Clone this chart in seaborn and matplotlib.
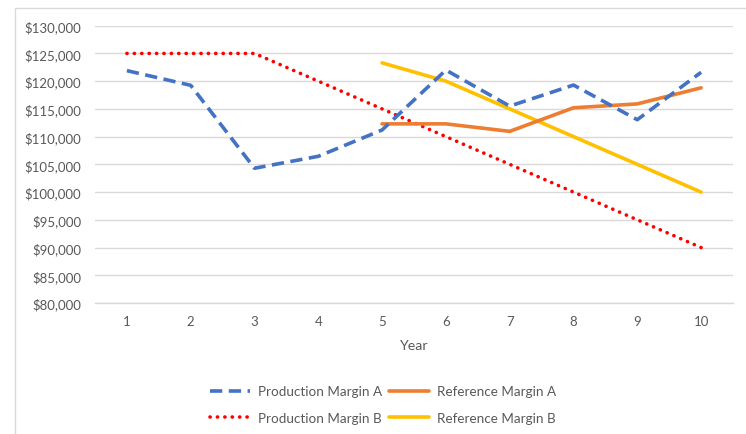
import matplotlib
matplotlib.use("Agg")
import matplotlib.pyplot as plt
from matplotlib.patches import Rectangle
from matplotlib.ticker import FuncFormatter
import seaborn as sns
import pandas as pd

# Chart data
years = [1, 2, 3, 4, 5, 6, 7, 8, 9, 10]
production_margin_a = [121900, 119250, 104300, 106450, 111200, 122000, 115500, 119300, 113050, 121600]
production_margin_b = [125000, 125000, 125000, 120000, 115000, 110000, 105000, 100000, 95000, 90000]
reference_years = [5, 6, 7, 8, 9, 10]
reference_margin_a = [112300, 112300, 110950, 115200, 115900, 118800]
reference_margin_b = [123300, 120000, 115000, 110000, 105000, 100000]
y_ticks = list(range(80000, 130001, 5000))

sns.set_theme(style="white")
plt.rcParams["font.family"] = ["Lato", "DejaVu Sans"]

text_color = "#595959"
grid_color = "#D9D9D9"

fig = plt.figure(figsize=(7.46, 4.35), dpi=100)

# Chart-area frame (left and top edges fall inside the image)
fig.patches.append(Rectangle((14.5 / 746, -0.1), 1.2, 1 - 9 / 435 + 0.1,
                             transform=fig.transFigure, fill=False,
                             edgecolor=grid_color, linewidth=1.0))

ax = fig.add_axes([95 / 746, 1 - 304 / 435, (733 - 95) / 746, (304 - 26.7) / 435])

df_pa = pd.DataFrame({"Year": years, "Value": production_margin_a})
df_pb = pd.DataFrame({"Year": years, "Value": production_margin_b})
df_ra = pd.DataFrame({"Year": reference_years, "Value": reference_margin_a})
df_rb = pd.DataFrame({"Year": reference_years, "Value": reference_margin_b})

lw = 2.6
sns.lineplot(data=df_pb, x="Year", y="Value", ax=ax, color="#FF0000", linewidth=lw,
             linestyle=(0, (0.05, 2.0)), dash_capstyle="round", label="Production Margin B",
             zorder=3)
sns.lineplot(data=df_rb, x="Year", y="Value", ax=ax, color="#FFC000", linewidth=lw,
             label="Reference Margin B", zorder=3)
sns.lineplot(data=df_ra, x="Year", y="Value", ax=ax, color="#ED7D31", linewidth=lw,
             label="Reference Margin A", zorder=3)
sns.lineplot(data=df_pa, x="Year", y="Value", ax=ax, color="#4472C4", linewidth=lw,
             linestyle=(0, (3.4, 1.8)), label="Production Margin A", zorder=4)

ax.set_xlim(0.5, 10.5)
ax.set_ylim(80000, 130000)
ax.set_xticks(years)
ax.set_yticks(y_ticks)
ax.yaxis.set_major_formatter(FuncFormatter(lambda v, p: f"${v:,.0f}"))
ax.grid(axis="y", color=grid_color, linewidth=1.0)
ax.set_axisbelow(True)
for side in ("top", "right", "left"):
    ax.spines[side].set_visible(False)
ax.spines["bottom"].set_color(grid_color)
ax.spines["bottom"].set_linewidth(1.0)
ax.tick_params(axis="both", length=0, labelsize=9.5, labelcolor=text_color)
ax.tick_params(axis="x", pad=9)
ax.tick_params(axis="y", pad=10)
ax.set_ylabel("")
ax.set_xlabel("Year", fontsize=10.2, color=text_color, labelpad=8)

handles, labels = ax.get_legend_handles_labels()
ax.legend_.remove()
order = ["Production Margin A", "Production Margin B", "Reference Margin A", "Reference Margin B"]
hmap = dict(zip(labels, handles))
fig.legend([hmap[k] for k in order], order, ncol=2, loc="center",
           bbox_to_anchor=(383 / 746, 1 - 405.5 / 435), frameon=False,
           fontsize=9.7, labelcolor=text_color, handlelength=3.0,
           handletextpad=0.6, columnspacing=0.45, labelspacing=1.08)

fig.savefig("out.png", dpi=100)
